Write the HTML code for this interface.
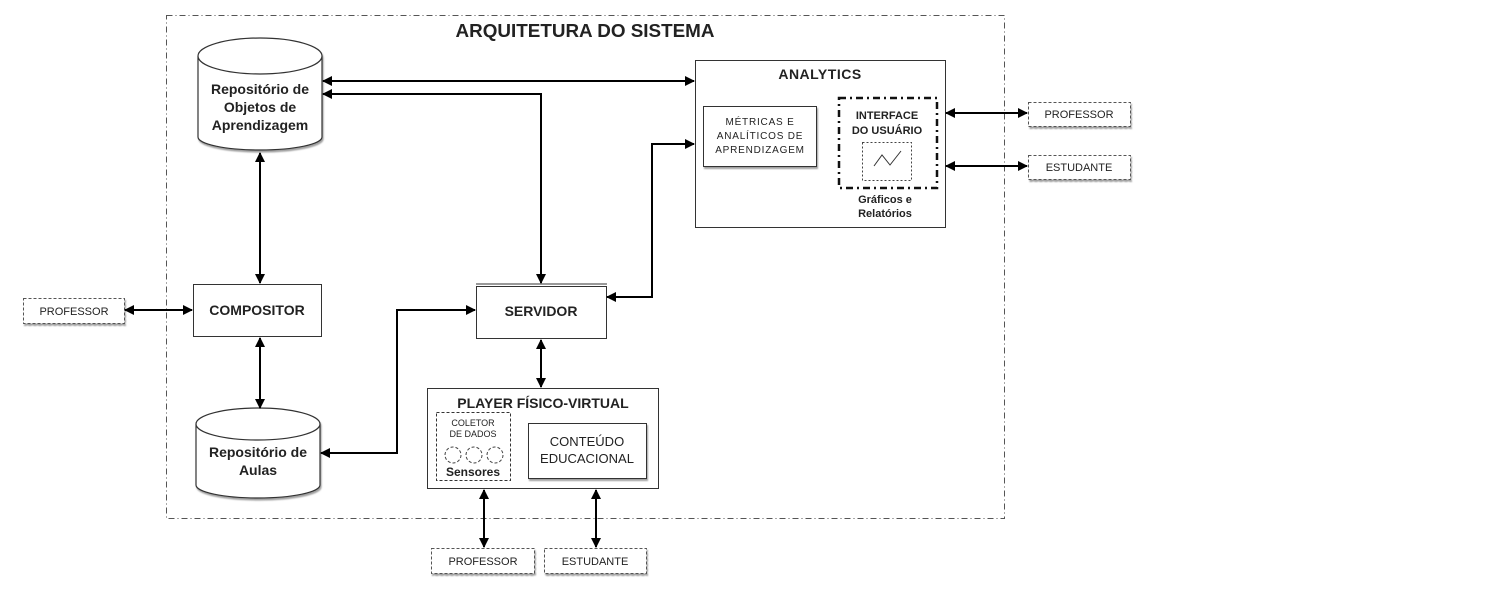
<!DOCTYPE html>
<html><head><meta charset="utf-8"><style>
html,body{margin:0;padding:0;background:#fff;}
svg{display:block;}
text{font-family:"Liberation Sans",Arial,sans-serif;fill:#222;text-anchor:middle;}
.b{font-weight:bold;}
</style></head><body>
<svg width="1512" height="600" viewBox="0 0 1512 600" xmlns="http://www.w3.org/2000/svg">
<defs>
<marker id="a" viewBox="0 0 10 10" refX="9" refY="5" markerWidth="5" markerHeight="5" orient="auto-start-reverse"><path d="M0,0 L10,5 L0,10 z" fill="#000"/></marker>
<filter id="sh" x="-5%" y="-5%" width="115%" height="120%"><feDropShadow dx="1" dy="2" stdDeviation="0.8" flood-color="#888" flood-opacity="0.8"/></filter>
</defs>
<rect width="1512" height="600" fill="#fff"/>
<rect x="166.5" y="15.5" width="838" height="503" fill="none" stroke="#555" stroke-width="1" stroke-dasharray="6,3,1,3"/>
<text x="585" y="37" class="b" font-size="18" textLength="259" lengthAdjust="spacingAndGlyphs">ARQUITETURA DO SISTEMA</text>

<g filter="url(#sh)">
<path d="M198,56 L198,137 A62,13 0 0 0 322,137 L322,56" fill="#fff" stroke="#333" stroke-width="1.2"/>
<ellipse cx="260" cy="56" rx="62" ry="18" fill="#fff" stroke="#333" stroke-width="1.2"/>
</g>
<text x="260" y="94" class="b" font-size="14">Repositório de</text>
<text x="260" y="112" class="b" font-size="14">Objetos de</text>
<text x="260" y="130" class="b" font-size="14">Aprendizagem</text>

<g filter="url(#sh)">
<path d="M196,424 L196,485 A62,13 0 0 0 320,485 L320,424" fill="#fff" stroke="#333" stroke-width="1.2"/>
<ellipse cx="258" cy="424" rx="62" ry="16" fill="#fff" stroke="#333" stroke-width="1.2"/>
</g>
<text x="258" y="457" class="b" font-size="14">Repositório de</text>
<text x="258" y="475" class="b" font-size="14">Aulas</text>

<rect x="193.5" y="284.5" width="128" height="52" fill="#fff" stroke="#333"/>
<text x="257" y="315" class="b" font-size="14">COMPOSITOR</text>
<rect x="476.5" y="286.5" width="130" height="52" fill="#fff" stroke="#333"/>
<line x1="476" y1="284" x2="607" y2="284" stroke="#333"/>
<text x="541" y="316" class="b" font-size="14">SERVIDOR</text>

<rect x="427.5" y="388.5" width="231" height="100" fill="#fff" stroke="#333"/>
<text x="543" y="408" class="b" font-size="14">PLAYER FÍSICO-VIRTUAL</text>
<rect x="436.5" y="412.5" width="74" height="68" fill="none" stroke="#333" stroke-dasharray="3,2"/>
<text x="473" y="426" font-size="9">COLETOR</text>
<text x="473" y="437" font-size="9">DE DADOS</text>
<circle cx="453" cy="455" r="8" fill="none" stroke="#444" stroke-dasharray="3,2"/>
<circle cx="474" cy="455" r="8" fill="none" stroke="#444" stroke-dasharray="3,2"/>
<circle cx="495" cy="455" r="8" fill="none" stroke="#444" stroke-dasharray="3,2"/>
<text x="473" y="476" class="b" font-size="12">Sensores</text>
<rect x="528.5" y="423.5" width="118" height="55" fill="#fff" stroke="#333" filter="url(#sh)"/>
<text x="587" y="446" font-size="13">CONTEÚDO</text>
<text x="587" y="463" font-size="13">EDUCACIONAL</text>

<rect x="695.5" y="60.5" width="250" height="167" fill="#fff" stroke="#333"/>
<text x="820" y="79" font-size="14" class="b" style="letter-spacing:0.5px">ANALYTICS</text>
<rect x="703.5" y="106.5" width="113" height="60" fill="#fff" stroke="#333" filter="url(#sh)"/>
<text x="760" y="125" font-size="10" style="letter-spacing:0.8px">MÉTRICAS E</text>
<text x="760" y="139" font-size="10" style="letter-spacing:0.8px">ANALÍTICOS DE</text>
<text x="760" y="153" font-size="10" style="letter-spacing:0.8px">APRENDIZAGEM</text>
<rect x="839" y="98" width="98" height="90" fill="none" stroke="#111" stroke-width="2.5" stroke-dasharray="7,4,2,4"/>
<text x="887" y="119" class="b" font-size="11">INTERFACE</text>
<text x="887" y="134" class="b" font-size="11">DO USUÁRIO</text>
<rect x="862.5" y="142.5" width="49" height="38" fill="none" stroke="#444" stroke-dasharray="2,2"/>
<polyline points="874,166 882,155 890,165 901,151" fill="none" stroke="#333" stroke-width="1"/>
<text x="885" y="203" class="b" font-size="11">Gráficos e</text>
<text x="885" y="217" class="b" font-size="11">Relatórios</text>

<rect x="23.5" y="298.5" width="101" height="25" fill="#fff" stroke="#555" stroke-dasharray="3,2" filter="url(#sh)"/>
<text x="74" y="315" font-size="11">PROFESSOR</text>
<rect x="1028.5" y="102.5" width="102" height="24" fill="#fff" stroke="#555" stroke-dasharray="3,2" filter="url(#sh)"/>
<text x="1079" y="118" font-size="11">PROFESSOR</text>
<rect x="1028.5" y="155.5" width="102" height="24" fill="#fff" stroke="#555" stroke-dasharray="3,2" filter="url(#sh)"/>
<text x="1079" y="171" font-size="11">ESTUDANTE</text>
<rect x="431.5" y="548.5" width="103" height="25" fill="#fff" stroke="#555" stroke-dasharray="3,2" filter="url(#sh)"/>
<text x="483" y="565" font-size="11">PROFESSOR</text>
<rect x="544.5" y="548.5" width="102" height="25" fill="#fff" stroke="#555" stroke-dasharray="3,2" filter="url(#sh)"/>
<text x="595" y="565" font-size="11">ESTUDANTE</text>

<g fill="none" stroke="#000" stroke-width="2" marker-start="url(#a)" marker-end="url(#a)">
<line x1="323" y1="81" x2="694" y2="81"/>
<polyline points="323,94 541,94 541,283"/>
<polyline points="694,144 652,144 652,297 607,297"/>
<line x1="260" y1="153" x2="260" y2="283"/>
<line x1="125" y1="310" x2="192" y2="310"/>
<line x1="260" y1="338" x2="260" y2="408"/>
<polyline points="321,453 397,453 397,310 475,310"/>
<line x1="541" y1="340" x2="541" y2="387"/>
<line x1="484" y1="490" x2="484" y2="547"/>
<line x1="596" y1="490" x2="596" y2="547"/>
<line x1="946" y1="113" x2="1027" y2="113"/>
<line x1="946" y1="166" x2="1027" y2="166"/>
</g>
</svg>
</body></html>
